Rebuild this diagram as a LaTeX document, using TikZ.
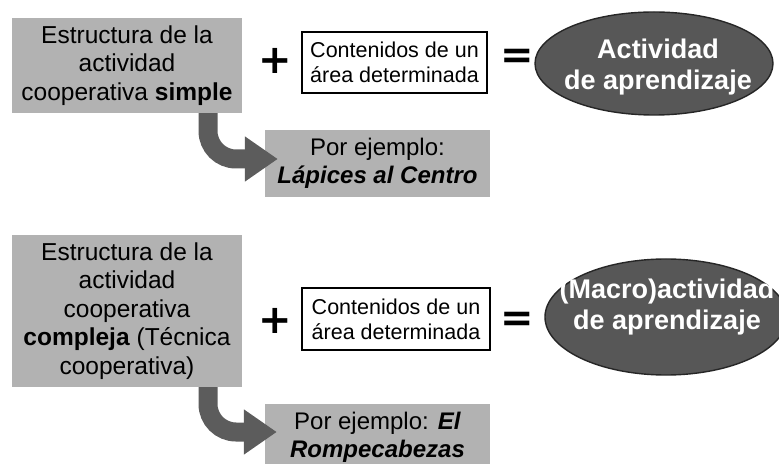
\documentclass[tikz,border=0pt]{standalone}
\usepackage{fontspec}
\setmainfont{Liberation Sans}
\newfontfamily\signofont{DejaVu Sans}
\usetikzlibrary{arrows.meta,shapes.geometric}

\begin{document}
\begin{tikzpicture}[x=1bp,y=-1bp,
  estructura/.style={fill=black!30,minimum width=230bp,align=center,inner sep=0pt,font=\fontsize{24.5bp}{28.5bp}\selectfont},
  contenido/.style={draw=black,line width=1.1bp,fill=white,minimum width=185bp,minimum height=61bp,align=center,inner sep=0pt,font=\fontsize{21.5bp}{25bp}\selectfont},
  ejemplo/.style={fill=black!30,minimum width=225bp,minimum height=67bp,align=center,inner sep=0pt,font=\fontsize{24bp}{28.5bp}\selectfont},
  resultado/.style={ellipse,draw=black!85,line width=1.4bp,fill=black!66,inner sep=0pt},
  resultxt/.style={text=white,align=center,inner sep=0pt,font=\bfseries\fontsize{27bp}{31bp}\selectfont},
  signo/.style={inner sep=0pt,font=\signofont\bfseries\fontsize{40bp}{40bp}\selectfont},
  flecha/.style={draw=black!64,line width=19bp,rounded corners=28bp,-{Triangle[length=33bp,width=43bp]}}]
\useasboundingbox (0,0) rectangle (779,464);
% fila de arriba
\node[estructura,minimum height=95bp] (str1) at (127,65.5) {Estructura de la\\actividad\\cooperativa \textbf{simple}};
\node[signo] (mas1) at (275,61) {+};
\node[contenido] (cont1) at (394.5,62.5) {Contenidos de un\\área determinada};
\node[signo] (igual1) at (517,59) {=};
\node[resultado,minimum width=238bp,minimum height=103bp] (act1) at (654,63.5) {};
\node[resultxt] (act1t) at ([xshift=4bp,yshift=-4bp]act1.center) {Actividad\\de aprendizaje};
\node[ejemplo] (ej1) at (377.5,163.5) {Por ejemplo:\\\textbf{\textit{Lápices al Centro}}};
\draw[flecha] ([xshift=81bp]str1.south) |- ([xshift=13bp,yshift=4.5bp]ej1.west);
% fila de abajo
\node[estructura,minimum height=152bp] (str2) at (127,311) {Estructura de la\\actividad\\cooperativa\\\textbf{compleja} (Técnica\\cooperativa)};
\node[signo] (mas2) at (275,321) {+};
\node[contenido,minimum width=188bp,minimum height=62bp] (cont2) at (396,319) {Contenidos de un\\área determinada};
\node[signo] (igual2) at (517,322) {=};
\node[resultado,minimum width=242bp,minimum height=116bp] (act2) at (666,317) {};
\node[resultxt] (act2t) at ([xshift=1bp,yshift=10bp]act2.center) {(Macro)actividad\\de aprendizaje};
\node[ejemplo] (ej2) at (377.5,437.5) {Por ejemplo: \textbf{\textit{El}}\\\textbf{\textit{Rompecabezas}}};
\draw[flecha] ([xshift=81bp]str2.south) |- ([xshift=12bp,yshift=5.5bp]ej2.west);
\end{tikzpicture}
\end{document}
